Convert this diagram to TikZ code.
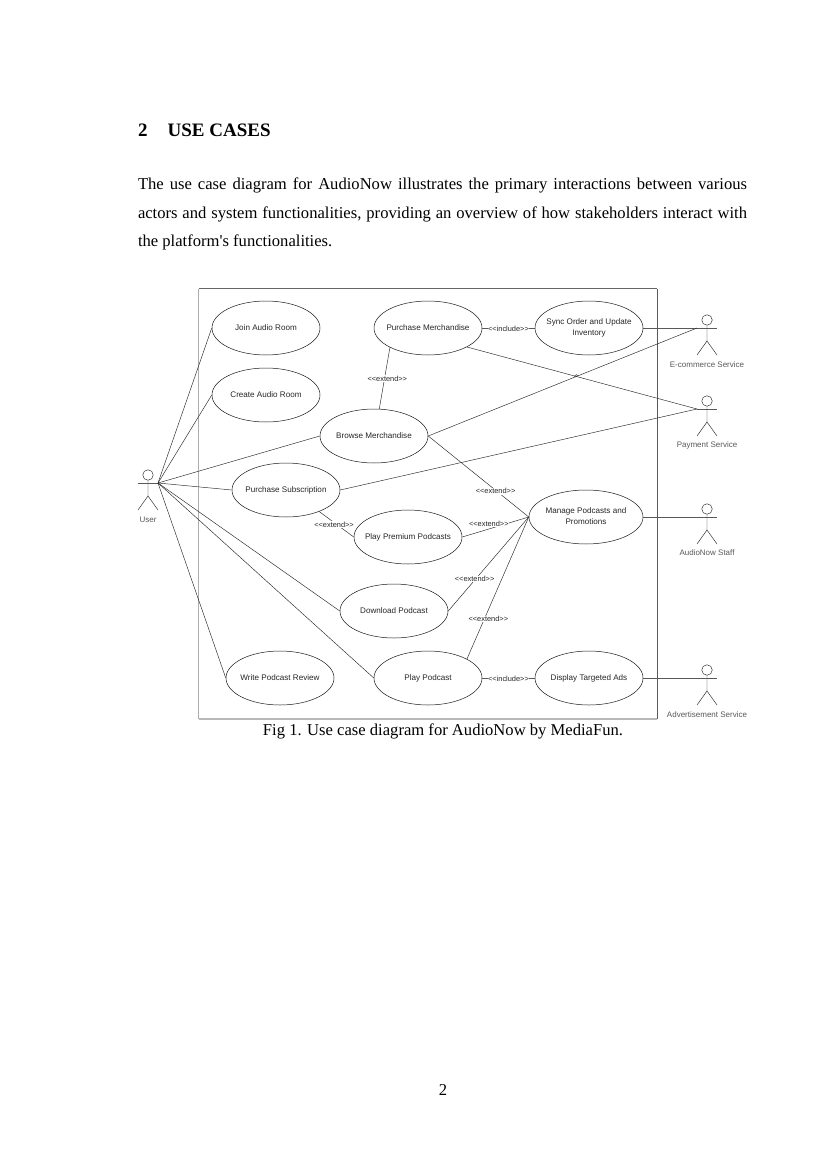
\documentclass[tikz,border=0pt]{standalone}
\usepackage{fontspec}
\usetikzlibrary{shapes.geometric,calc}
\setmainfont{Liberation Serif}
\newfontfamily\bodyfont{Liberation Serif}
\newfontfamily\dsans{Liberation Sans}
\definecolor{ink}{gray}{0.15}
\newcommand{\uct}[1]{\makebox[0pt][c]{\raisebox{-1pt}{\begin{tabular}{@{}c@{}}#1\end{tabular}}}}
\tikzset{
  uc/.style={draw=black!90,line width=0.5pt,ellipse,minimum width=108pt,minimum height=54pt,inner sep=0pt,align=center,font=\dsans\fontsize{8.1}{10.5}\selectfont,text=ink},
  link/.style={draw=black!85,line width=0.45pt},
  hlink/.style={draw=black!65,line width=0.4pt},
  stereo/.style={fill=white,inner sep=0.6pt,font=\dsans\fontsize{7.4}{9}\selectfont,text=ink},
  actorlabel/.style={font=\dsans\fontsize{8}{10}\selectfont,text=black!65},
  actorline/.style={draw=black!85,line width=0.45pt},
  head/.style={circle,draw=black!85,line width=0.45pt,minimum size=10.5pt,inner sep=0pt},
  bodytext/.style={inner sep=0pt,outer sep=0pt,anchor=north west,text width=609pt,align=justify,font=\bodyfont\fontsize{16.6}{28.5}\selectfont},
}
\newcommand{\actorfig}[5]{% name, x, y of arm line, label, label y
  \node[head] (#1h) at (#2,#3-8) {};
  \coordinate (#1l) at (#2-10,#3);
  \coordinate (#1r) at (#2+10,#3);
  \coordinate (#1c) at (#2,#3+13);
  \coordinate (#1fl) at (#2-10,#3+27);
  \coordinate (#1fr) at (#2+10,#3+27);
  \draw[actorline] (#1h) -- (#1c) (#1fl) -- (#1c) -- (#1fr);
  \draw[hlink] (#1l) -- (#1r);
  \node[actorlabel] (#1t) at (#2,#5) {#4};
}
\begin{document}
\begin{tikzpicture}[x=1pt,y=-1pt]
\useasboundingbox (0,0) rectangle (827,1169);
\fill[white] (0,0) rectangle (827,1169);

\node[anchor=base west,inner sep=0pt,font=\bodyfont\fontsize{19}{22}\selectfont\bfseries] (heading) at (138,137) {2\hspace{20pt}USE CASES};
\node[bodytext] (para) at (138,178) {The use case diagram for AudioNow illustrates the primary interactions between various\linebreak actors and system functionalities, providing an overview of how stakeholders interact with\linebreak the platform's functionalities.};

\coordinate (ftl) at (198.5,288.5);
\coordinate (ftr) at (657,288.5);
\coordinate (fbr) at (657,719);
\coordinate (fbl) at (198.5,719);
\draw[black!60,line width=0.5pt] (ftl) -- (ftr);
\draw[black!65,line width=0.5pt] (ftr) -- (fbr);
\draw[black!28,line width=1.1pt] (fbr) -- (fbl);
\draw[black!32,line width=0.7pt] (fbl) -- (ftl);

\node[uc] (join) at (266,328) {\uct{Join Audio Room}};
\node[uc] (create) at (266,395) {\uct{Create Audio Room}};
\node[uc] (pm) at (428,328) {\uct{Purchase Merchandise}};
\node[uc] (sync) at (589,328) {\uct{Sync Order and Update\\Inventory}};
\node[uc] (browse) at (374,436) {\uct{Browse Merchandise}};
\node[uc] (psub) at (286,490) {\uct{Purchase Subscription}};
\node[uc] (premium) at (408,537) {\uct{Play Premium Podcasts}};
\node[uc,minimum width=114pt] (manage) at (586,517) {\uct{Manage Podcasts and\\Promotions}};
\node[uc] (download) at (394,611) {\uct{Download Podcast}};
\node[uc] (play) at (428,678) {\uct{Play Podcast}};
\node[uc] (write) at (280,678) {\uct{Write Podcast Review}};
\node[uc] (ads) at (589,678) {\uct{Display Targeted Ads}};

\actorfig{user}{148}{483}{User}{519.5}
\actorfig{ecom}{707}{328}{E-commerce Service}{364.5}
\actorfig{pay}{707}{409}{Payment Service}{445}
\actorfig{staff}{707}{517}{AudioNow Staff}{553}
\actorfig{adv}{707}{678}{Advertisement Service}{714.5}

\foreach \t in {join,create,browse,psub,download,play,write}
  \draw[link] (userr) -- (\t.west);

\draw[hlink] (sync.east) -- (ecoml);
\draw[link] (browse.east) -- (ecoml);
\draw[link] (pm.-26) -- (payl);
\draw[link] (psub.east) -- (payl);
\draw[hlink] (manage.east) -- (staffl);
\draw[hlink] (ads.east) -- (advl);

\draw[link] (browse.79.5) -- node[stereo,pos=0.52,xshift=2.5pt,yshift=-1.5pt] (l1) {<<extend>>} (pm.207.8);
\draw[hlink] (pm.east) -- node[stereo,yshift=-1pt] (l2) {<<include>>} (sync.west);
\draw[link] (browse.east) -- node[stereo,pos=0.67,yshift=-1pt] (l3) {<<extend>>} (manage.west);
\draw[link] (psub.-33.7) -- node[stereo,pos=0.43,yshift=-2pt] (l4) {<<extend>>} (premium.west);
\draw[link] (premium.east) -- node[stereo,pos=0.4,yshift=5pt] (l5) {<<extend>>} (manage.west);
\draw[link] (download.east) -- node[stereo,pos=0.34,xshift=-1pt] (l6) {<<extend>>} (manage.west);
\draw[link] (play.26) -- node[stereo,pos=0.29,xshift=3.5pt,yshift=-1pt] (l7) {<<extend>>} (manage.west);
\draw[hlink] (play.east) -- node[stereo,yshift=-1pt] (l8) {<<include>>} (ads.west);

\coordinate (hopa) at (574.4,376.6);
\coordinate (hopb) at (578,376);
\draw[link] (hopa) .. controls (575.5,374) and (577,374) .. (hopb);

\node[anchor=base,inner sep=0pt,font=\bodyfont\fontsize{16.6}{19}\selectfont] (cap) at (443,735) {Fig 1. Use case diagram for AudioNow by MediaFun.};
\node[anchor=base,inner sep=0pt,font=\bodyfont\fontsize{16.6}{19}\selectfont] (pageno) at (443,1095) {2};
\end{tikzpicture}
\end{document}
